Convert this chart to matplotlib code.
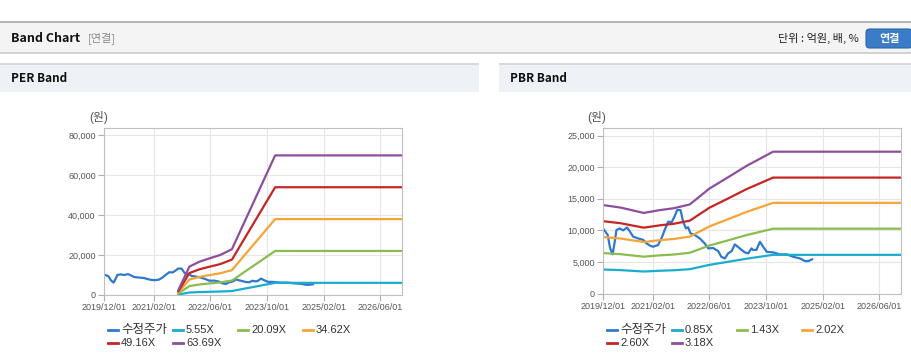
import matplotlib.pyplot as plt
from matplotlib.lines import Line2D
from matplotlib.patches import Rectangle, FancyBboxPatch
from matplotlib.ticker import FuncFormatter

plt.rcParams['font.family'] = ['Liberation Sans', 'Noto Sans CJK KR']

W, H = 912, 364

# x values are months since 2019/12/01
x_ticks = [0, 14, 30, 46, 62, 78]
x_tick_labels = ["2019/12/01", "2021/02/01", "2022/06/01", "2023/10/01", "2025/02/01", "2026/06/01"]

price_months = [0, 1.3, 2.0, 2.7, 3.2, 3.8, 4.7, 5.7, 6.8, 7.6, 8.5, 10.0, 11.3, 12.3, 13.2, 14.1,
                15.5, 16.5, 17.4, 18.4, 19.4, 20.2, 20.9, 21.9, 22.6, 23.4, 24.0, 24.7, 25.9, 27.3,
                28.7, 29.7, 31.1, 32.5, 33.4, 34.4, 35.3, 36.3, 37.2, 38.6, 40.0, 41.0, 41.9, 42.3,
                43.3, 44.3, 45.2, 46.2, 48.0, 49.9, 51.8, 53.7, 55.6, 57.0, 57.9, 59.0]
price = [10300, 9300, 7200, 6200, 7800, 10050, 10300, 10000, 10450, 9800, 9000, 8700, 8500, 7930,
         7600, 7400, 7660, 8730, 10040, 11370, 11300, 12200, 13200, 13200, 11370, 10300, 10500,
         9520, 9250, 8730, 7930, 7140, 7200, 6710, 5810, 5550, 6350, 6710, 7780, 7140, 6510, 6350,
         7140, 6900, 6900, 8190, 7400, 6600, 6510, 6190, 6200, 5810, 5550, 5130, 5130, 5400]

per_months = [21.0, 24.1, 27.0, 29.9, 32.8, 36.1, 48.3, 84.1]
per_labels = ["5.55X", "20.09X", "34.62X", "49.16X", "63.69X"]
per_5_55 = [220, 1240, 1450, 1600, 1740, 1990, 6080, 6080]
per_20_09 = [790, 4480, 5270, 5800, 6310, 7220, 22020, 22020]
per_34_62 = [1360, 7720, 9080, 10000, 10870, 12450, 37940, 37940]
per_49_16 = [1930, 10960, 12890, 14200, 15440, 17680, 53880, 53880]
per_63_69 = [2500, 14200, 16700, 18400, 20000, 22900, 69800, 69800]

pbr_months = [0, 5, 11.5, 16, 20, 24.5, 30, 35, 40.5, 48, 84.1]
pbr_labels = ["0.85X", "1.43X", "2.02X", "2.60X", "3.18X"]
pbr_0_85 = [3800, 3700, 3480, 3600, 3680, 3850, 4530, 4990, 5510, 6120, 6120]
pbr_1_43 = [6400, 6220, 5830, 6040, 6170, 6450, 7590, 8370, 9240, 10260, 10260]
pbr_2_02 = [8950, 8700, 8150, 8440, 8630, 9010, 10610, 11700, 12910, 14350, 14350]
pbr_2_60 = [11450, 11120, 10420, 10790, 11040, 11530, 13570, 14960, 16520, 18350, 18350]
pbr_3_18 = [14000, 13600, 12750, 13200, 13500, 14100, 16600, 18300, 20200, 22450, 22450]

price_color = "#2f78d0"
band_colors = ["#1aadce", "#8bbc4f", "#f5a435", "#c42525", "#8d4f9c"]


def fx(px):
    return px / W


def fy(py):
    return 1 - py / H


def box(fig, x0, y0, x1, y1, color, z=0):
    fig.add_artist(Rectangle((fx(x0), fy(y1)), (x1 - x0) / W, (y1 - y0) / H,
                             transform=fig.transFigure, color=color, lw=0, zorder=z))


def draw_frame(fig):
    box(fig, 0, 22, W, 52, "#f4f4f4")
    box(fig, 0, 21, W, 23, "#b4b4b4")
    box(fig, 0, 52, W, 54, "#d2d2d2")
    fig.text(fx(11), fy(38), "Band Chart", fontsize=9, weight="bold", color="#111111",
             va="center", family=["Noto Sans CJK KR"])
    fig.text(fx(88), fy(38), "[연결]", fontsize=8, color="#8a8a8a", va="center",
             family=["Noto Sans CJK KR"])
    fig.text(fx(859), fy(38), "단위 : 억원, 배, %", fontsize=8, color="#222222", va="center",
             ha="right", family=["Noto Sans CJK KR"])
    fig.add_artist(FancyBboxPatch((fx(866), fy(48)), 46 / W, 19 / H,
                                  boxstyle="round,pad=0,rounding_size=0.004",
                                  mutation_aspect=W / H, transform=fig.transFigure,
                                  facecolor="#3a7cc6", edgecolor="#2b67aa", lw=0.8))
    fig.text(fx(890), fy(38.5), "연결", fontsize=8, weight="bold", color="white",
             va="center", ha="center", family=["Noto Sans CJK KR"])

    for x0, x1, title in [(0, 479, "PER Band"), (499, W, "PBR Band")]:
        box(fig, x0, 64, x1, 92, "#eef1f6")
        box(fig, x0, 63, x1, 65, "#d6d9de")
        fig.text(fx(x0 + 11), fy(79), title, fontsize=8.5, weight="bold", color="#111111",
                 va="center", family=["Noto Sans CJK KR"])


def draw_band(fig, rect, months, bands, ymax, yticks, unit_x):
    ax = fig.add_axes([fx(rect[0]), fy(rect[3]), (rect[2] - rect[0]) / W, (rect[3] - rect[1]) / H])
    ax.plot(price_months, price, color=price_color, lw=1.6)
    for values, c in zip(bands, band_colors):
        ax.plot(months, values, color=c, lw=1.6)

    ax.set_xlim(0, 84.1)
    ax.set_ylim(0, ymax)
    ax.set_xticks(x_ticks)
    ax.set_xticklabels(x_tick_labels)
    ax.set_yticks(yticks)
    ax.yaxis.set_major_formatter(FuncFormatter(lambda v, p: f"{int(v):,}"))
    ax.grid(color="#e6e6e6", lw=0.8)
    ax.set_axisbelow(True)
    for s in ax.spines.values():
        s.set_color("#c0c0c0")
    ax.tick_params(colors="#b0b0b0", labelcolor="#555555", labelsize=6.5, length=4, pad=2)
    fig.text(fx(unit_x), fy(118), "(원)", fontsize=8.5, color="#555555", ha="center", va="center")
    return ax


def draw_legend(fig, x0, y0, labels):
    colors = [price_color] + band_colors
    for i, (lab, c) in enumerate(zip(["수정주가"] + labels, colors)):
        x = x0 + (i % 4) * 65
        y = y0 + (i // 4) * 13
        fig.add_artist(Line2D([fx(x), fx(x + 10)], [fy(y), fy(y)], color=c, lw=2,
                              transform=fig.transFigure))
        fig.text(fx(x + 13), fy(y), lab, fontsize=9 if i == 0 else 8, color="#333333",
                 va="center")


def main():
    fig = plt.figure(figsize=(W / 100, H / 100), dpi=100)
    draw_frame(fig)

    draw_band(fig, (104, 128, 402, 295), per_months,
              [per_5_55, per_20_09, per_34_62, per_49_16, per_63_69],
              83500, [0, 20000, 40000, 60000, 80000], 99)
    draw_band(fig, (603, 128, 901, 293.5), pbr_months,
              [pbr_0_85, pbr_1_43, pbr_2_02, pbr_2_60, pbr_3_18],
              26200, [0, 5000, 10000, 15000, 20000, 25000], 597)

    draw_legend(fig, 108, 330, per_labels)
    draw_legend(fig, 607, 330, pbr_labels)

    fig.savefig("out.png", dpi=100, facecolor="white")


if __name__ == "__main__":
    main()
